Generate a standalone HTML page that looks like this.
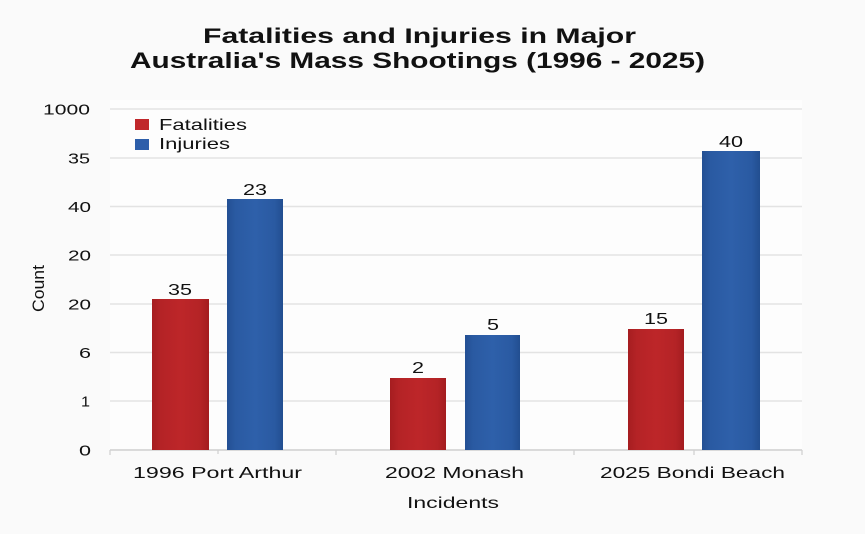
<!DOCTYPE html>
<html>
<head>
<meta charset="utf-8">
<style>
html,body{margin:0;padding:0;background:#fafafa;}
svg{display:block;}
text{font-family:"Liberation Sans",Arial,sans-serif;fill:#111;}
</style>
</head>
<body>
<svg width="865" height="534" viewBox="0 0 865 534" xmlns="http://www.w3.org/2000/svg">
<defs>
<linearGradient id="red" x1="0" x2="1" y1="0" y2="0">
<stop offset="0" stop-color="#a51d20"/>
<stop offset="0.15" stop-color="#b42326"/>
<stop offset="0.5" stop-color="#bd2629"/>
<stop offset="0.85" stop-color="#b42326"/>
<stop offset="1" stop-color="#a31c1f"/>
</linearGradient>
<linearGradient id="blue" x1="0" x2="1" y1="0" y2="0">
<stop offset="0" stop-color="#234f93"/>
<stop offset="0.15" stop-color="#2a5aa2"/>
<stop offset="0.5" stop-color="#2e60aa"/>
<stop offset="0.85" stop-color="#2a5aa2"/>
<stop offset="1" stop-color="#224e90"/>
</linearGradient>
</defs>
<rect x="0" y="0" width="865" height="534" fill="#fafafa"/>
<rect x="110" y="100" width="692" height="350" fill="#fdfdfd"/>

<!-- Title -->
<text x="203" y="43" font-size="21" font-weight="bold" textLength="433" lengthAdjust="spacingAndGlyphs">Fatalities and Injuries in Major</text>
<text x="130" y="68" font-size="22" font-weight="bold" textLength="575" lengthAdjust="spacingAndGlyphs">Australia's Mass Shootings (1996 - 2025)</text>

<!-- Gridlines -->
<g stroke="#e3e3e3" stroke-width="1.5">
<line x1="110" y1="109" x2="802" y2="109"/>
<line x1="110" y1="158" x2="802" y2="158"/>
<line x1="110" y1="206.5" x2="802" y2="206.5"/>
<line x1="110" y1="255" x2="802" y2="255"/>
<line x1="110" y1="304" x2="802" y2="304"/>
<line x1="110" y1="352.5" x2="802" y2="352.5"/>
<line x1="110" y1="401" x2="802" y2="401"/>
</g>
<line x1="110" y1="450" x2="802" y2="450" stroke="#cfcfcf" stroke-width="1.5"/>
<g stroke="#cfcfcf" stroke-width="1.2">
<line x1="110" y1="450" x2="110" y2="455"/>
<line x1="218" y1="450" x2="218" y2="454"/>
<line x1="336" y1="450" x2="336" y2="455"/>
<line x1="574" y1="450" x2="574" y2="455"/>
<line x1="694" y1="450" x2="694" y2="455"/>
<line x1="802" y1="450" x2="802" y2="455"/>
</g>

<!-- Y tick labels -->
<g font-size="15">
<text x="43" y="114.5" textLength="47" lengthAdjust="spacingAndGlyphs">1000</text>
<text x="68" y="163.5" textLength="22" lengthAdjust="spacingAndGlyphs">35</text>
<text x="68" y="212" textLength="23" lengthAdjust="spacingAndGlyphs">40</text>
<text x="68" y="260.5" textLength="23" lengthAdjust="spacingAndGlyphs">20</text>
<text x="68" y="309.5" textLength="23" lengthAdjust="spacingAndGlyphs">20</text>
<text x="79" y="358" textLength="12" lengthAdjust="spacingAndGlyphs">6</text>
<text x="81" y="406.5" textLength="9" lengthAdjust="spacingAndGlyphs">1</text>
<text x="79" y="455.5" textLength="12" lengthAdjust="spacingAndGlyphs">0</text>
</g>

<!-- Y axis title -->
<text transform="translate(44,312) rotate(-90)" font-size="17" textLength="47" lengthAdjust="spacingAndGlyphs">Count</text>

<!-- Bars -->
<rect x="152" y="299" width="57" height="151" fill="url(#red)"/>
<rect x="227" y="199" width="56" height="251" fill="url(#blue)"/>
<rect x="390" y="378" width="56" height="72" fill="url(#red)"/>
<rect x="465" y="335" width="55" height="115" fill="url(#blue)"/>
<rect x="628" y="329" width="56" height="121" fill="url(#red)"/>
<rect x="702" y="151" width="58" height="299" fill="url(#blue)"/>

<!-- Bar value labels -->
<g font-size="16">
<text x="168" y="295" textLength="24" lengthAdjust="spacingAndGlyphs">35</text>
<text x="243" y="195" textLength="24" lengthAdjust="spacingAndGlyphs">23</text>
<text x="412" y="373" textLength="12" lengthAdjust="spacingAndGlyphs">2</text>
<text x="487" y="330" textLength="12" lengthAdjust="spacingAndGlyphs">5</text>
<text x="644" y="324" textLength="24" lengthAdjust="spacingAndGlyphs">15</text>
<text x="719" y="147" textLength="24" lengthAdjust="spacingAndGlyphs">40</text>
</g>

<!-- Legend -->
<rect x="135" y="119" width="14" height="11" fill="#c0272b"/>
<rect x="135" y="139" width="14" height="11" fill="#2d5eaa"/>
<g font-size="16">
<text x="159" y="130" textLength="88" lengthAdjust="spacingAndGlyphs">Fatalities</text>
<text x="159" y="149" textLength="71" lengthAdjust="spacingAndGlyphs">Injuries</text>
</g>

<!-- X labels -->
<g font-size="16">
<text x="133" y="478" textLength="169" lengthAdjust="spacingAndGlyphs">1996 Port Arthur</text>
<text x="385" y="478" textLength="139" lengthAdjust="spacingAndGlyphs">2002 Monash</text>
<text x="600" y="478" textLength="185" lengthAdjust="spacingAndGlyphs">2025 Bondi Beach</text>
<text x="407" y="508" textLength="92" lengthAdjust="spacingAndGlyphs">Incidents</text>
</g>
</svg>
</body>
</html>
